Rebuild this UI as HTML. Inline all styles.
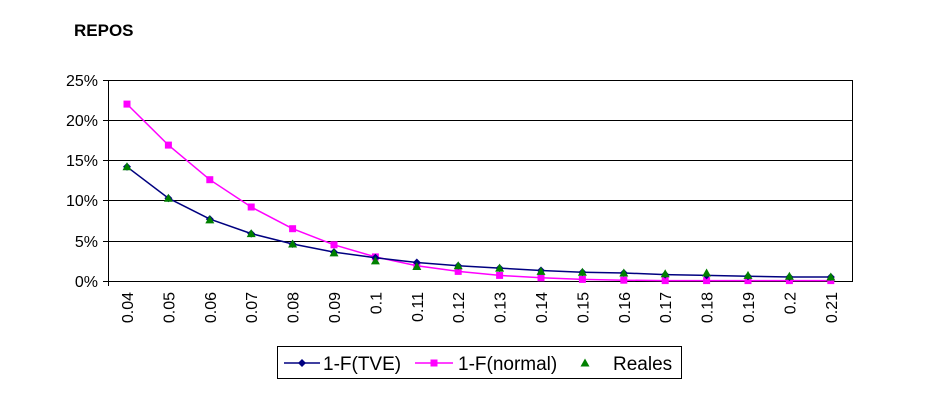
<!DOCTYPE html>
<html><head><meta charset="utf-8"><style>body{margin:0;background:#fff}svg{display:block}text{font-family:"Liberation Sans",sans-serif}</style></head><body>
<svg width="929" height="416" viewBox="0 0 929 416" xmlns="http://www.w3.org/2000/svg">
<text x="74" y="36" font-size="17" font-weight="bold">REPOS</text>
<g stroke="#000" stroke-width="1">
<line x1="108" y1="80.5" x2="853" y2="80.5"/><line x1="108" y1="120.5" x2="853" y2="120.5"/><line x1="108" y1="160.5" x2="853" y2="160.5"/><line x1="108" y1="200.5" x2="853" y2="200.5"/><line x1="108" y1="241.5" x2="853" y2="241.5"/><line x1="108" y1="281.5" x2="853" y2="281.5"/>
<line x1="108.5" y1="80" x2="108.5" y2="286"/><line x1="852.5" y1="80" x2="852.5" y2="281"/>
<line x1="103" y1="80.5" x2="108" y2="80.5"/><line x1="103" y1="120.5" x2="108" y2="120.5"/><line x1="103" y1="160.5" x2="108" y2="160.5"/><line x1="103" y1="200.5" x2="108" y2="200.5"/><line x1="103" y1="241.5" x2="108" y2="241.5"/><line x1="103" y1="281.5" x2="108" y2="281.5"/>
</g>
<g font-size="16" text-anchor="end">
<text x="98" y="86">25%</text><text x="98" y="126">20%</text><text x="98" y="166">15%</text><text x="98" y="206">10%</text><text x="98" y="247">5%</text><text x="98" y="287">0%</text>
</g>
<g font-size="16" text-anchor="end">
<text transform="translate(133,292) rotate(-90)">0.04</text>
<text transform="translate(174.4,292) rotate(-90)">0.05</text>
<text transform="translate(215.8,292) rotate(-90)">0.06</text>
<text transform="translate(257.2,292) rotate(-90)">0.07</text>
<text transform="translate(298.6,292) rotate(-90)">0.08</text>
<text transform="translate(340,292) rotate(-90)">0.09</text>
<text transform="translate(381.4,292) rotate(-90)">0.1</text>
<text transform="translate(422.8,292) rotate(-90)">0.11</text>
<text transform="translate(464.2,292) rotate(-90)">0.12</text>
<text transform="translate(505.6,292) rotate(-90)">0.13</text>
<text transform="translate(547,292) rotate(-90)">0.14</text>
<text transform="translate(588.4,292) rotate(-90)">0.15</text>
<text transform="translate(629.8,292) rotate(-90)">0.16</text>
<text transform="translate(671.2,292) rotate(-90)">0.17</text>
<text transform="translate(712.6,292) rotate(-90)">0.18</text>
<text transform="translate(754,292) rotate(-90)">0.19</text>
<text transform="translate(795.4,292) rotate(-90)">0.2</text>
<text transform="translate(836.8,292) rotate(-90)">0.21</text>
</g>
<polyline fill="none" stroke="#ff00ff" stroke-width="1.5" points="127,104.1 168.4,145.1 209.8,179.7 251.2,207 292.6,228.7 334,244.8 375.4,256.9 416.8,265.7 458.2,271.4 499.6,275.4 541,277.8 582.4,279.4 623.8,280.2 665.2,280.6 706.6,280.6 748,280.6 789.4,280.6 830.8,280.6"/>
<g fill="#ff00ff">
<rect x="123.5" y="100.6" width="7" height="7"/><rect x="164.9" y="141.6" width="7" height="7"/><rect x="206.3" y="176.2" width="7" height="7"/><rect x="247.7" y="203.5" width="7" height="7"/><rect x="289.1" y="225.2" width="7" height="7"/><rect x="330.5" y="241.3" width="7" height="7"/><rect x="371.9" y="253.4" width="7" height="7"/><rect x="413.3" y="262.2" width="7" height="7"/><rect x="454.7" y="267.9" width="7" height="7"/><rect x="496.1" y="271.9" width="7" height="7"/><rect x="537.5" y="274.3" width="7" height="7"/><rect x="578.9" y="275.9" width="7" height="7"/><rect x="620.3" y="276.7" width="7" height="7"/><rect x="661.7" y="277.1" width="7" height="7"/><rect x="703.1" y="277.1" width="7" height="7"/><rect x="744.5" y="277.1" width="7" height="7"/><rect x="785.9" y="277.1" width="7" height="7"/><rect x="827.3" y="277.1" width="7" height="7"/>
</g>
<polyline fill="none" stroke="#000080" stroke-width="1.5" points="127,166.8 168.4,198.2 209.8,219.1 251.2,233.6 292.6,244 334,252.1 375.4,257.7 416.8,262.5 458.2,265.7 499.6,268.1 541,270.5 582.4,272.2 623.8,273 665.2,274.6 706.6,275.4 748,276.2 789.4,277 830.8,277"/>
<g fill="#000080">
<path d="M127,162.8l4,4-4,4-4-4z"/><path d="M168.4,194.2l4,4-4,4-4-4z"/><path d="M209.8,215.1l4,4-4,4-4-4z"/><path d="M251.2,229.6l4,4-4,4-4-4z"/><path d="M292.6,240l4,4-4,4-4-4z"/><path d="M334,248.1l4,4-4,4-4-4z"/><path d="M375.4,253.7l4,4-4,4-4-4z"/><path d="M416.8,258.5l4,4-4,4-4-4z"/><path d="M458.2,261.7l4,4-4,4-4-4z"/><path d="M499.6,264.1l4,4-4,4-4-4z"/><path d="M541,266.5l4,4-4,4-4-4z"/><path d="M582.4,268.2l4,4-4,4-4-4z"/><path d="M623.8,269l4,4-4,4-4-4z"/><path d="M665.2,270.6l4,4-4,4-4-4z"/><path d="M706.6,271.4l4,4-4,4-4-4z"/><path d="M748,272.2l4,4-4,4-4-4z"/><path d="M789.4,273l4,4-4,4-4-4z"/><path d="M830.8,273l4,4-4,4-4-4z"/>
</g>
<g fill="#008000">
<path d="M127,162.3l4.5,8h-9z"/><path d="M168.4,193.7l4.5,8h-9z"/><path d="M209.8,215.4l4.5,8h-9z"/><path d="M251.2,229.1l4.5,8h-9z"/><path d="M292.6,239.5l4.5,8h-9z"/><path d="M334,248.4l4.5,8h-9z"/><path d="M375.4,256.4l4.5,8h-9z"/><path d="M416.8,262l4.5,8h-9z"/><path d="M458.2,261.2l4.5,8h-9z"/><path d="M499.6,263.6l4.5,8h-9z"/><path d="M541,266.9l4.5,8h-9z"/><path d="M582.4,267.7l4.5,8h-9z"/><path d="M623.8,268.5l4.5,8h-9z"/><path d="M665.2,269.3l4.5,8h-9z"/><path d="M706.6,268.5l4.5,8h-9z"/><path d="M748,270.9l4.5,8h-9z"/><path d="M789.4,271.7l4.5,8h-9z"/><path d="M830.8,272.5l4.5,8h-9z"/>
</g>
<rect x="277.5" y="346.5" width="404" height="32" fill="#fff" stroke="#000"/>
<line x1="284" y1="363" x2="320" y2="363" stroke="#000080" stroke-width="1.5"/><path d="M302,359l4,4-4,4-4-4z" fill="#000080"/>
<text x="323" y="370" font-size="19">1-F(TVE)</text>
<line x1="415" y1="363" x2="453" y2="363" stroke="#ff00ff" stroke-width="1.5"/><rect x="430.5" y="359.5" width="7" height="7" fill="#ff00ff"/>
<text x="458" y="370" font-size="19">1-F(normal)</text>
<path d="M585,358.5l4.5,8h-9z" fill="#008000"/>
<text x="613" y="370" font-size="19">Reales</text>
</svg>
</body></html>
